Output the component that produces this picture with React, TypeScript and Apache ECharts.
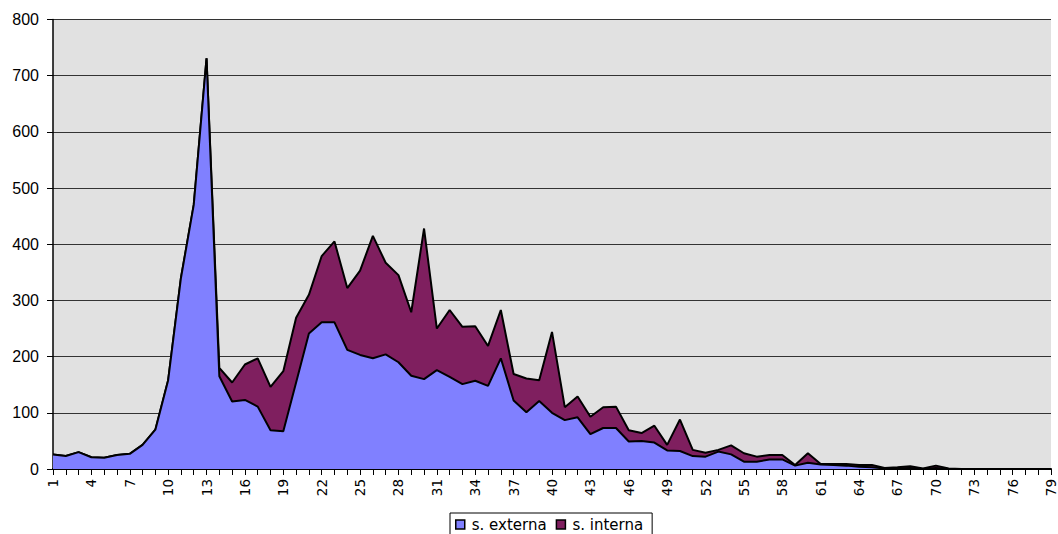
import React, { useEffect, useRef } from "react";
import * as echarts from "echarts";

const categories: string[] = Array.from({ length: 79 }, (_, i) => String(i + 1));

const externa: number[] = [
  26, 23, 30, 21, 20, 25, 27, 43, 70, 158,
  340, 470, 731, 165, 120, 123, 111, 69, 67, 154,
  241, 261, 261, 212, 203, 197, 204, 190, 166, 160,
  176, 164, 151, 157, 148, 197, 122, 101, 121, 100,
  87, 92, 62, 73, 73, 49, 50, 47, 33, 32,
  23, 22, 31, 26, 13, 13, 17, 17, 6, 11,
  8, 7, 6, 4, 3, 1, 1, 2, 0, 2,
  0, 0, 0, 0, 0, 0, 0, 0, 0,
];

const interna: number[] = [
  0, 0, 0, 0, 0, 0, 0, 0, 0, 0,
  0, 0, 0, 15, 34, 63, 86, 77, 107, 115,
  69, 118, 144, 110, 150, 218, 163, 155, 113, 268,
  74, 119, 102, 97, 71, 86, 47, 60, 37, 144,
  23, 37, 31, 37, 38, 20, 14, 30, 10, 56,
  11, 7, 3, 16, 15, 9, 8, 8, 1, 17,
  1, 2, 3, 3, 4, 1, 2, 3, 1, 4,
  1, 0, 0, 0, 0, 0, 0, 0, 0,
];

const ARIAL = "'Liberation Sans', Arial, sans-serif";
const WIDE = "'DejaVu Sans', sans-serif";

export default function App() {
  const ref = useRef<HTMLDivElement>(null);
  useEffect(() => {
    if (!ref.current) return;
    const chart = echarts.init(ref.current, null, { renderer: "svg" });
    chart.setOption({
      animation: false,
      textStyle: { fontFamily: ARIAL },
      grid: {
        left: 53,
        right: 4,
        top: 19.5,
        bottom: 65,
        show: true,
        backgroundColor: "#E1E1E1",
        borderWidth: 0,
      },
      legend: {
        top: 513,
        left: 450,
        itemWidth: 9,
        itemHeight: 9,
        itemGap: 9,
        padding: [4, 9, 6, 5],
        borderColor: "#000",
        borderWidth: 1,
        borderRadius: 0,
        icon: "rect",
        textStyle: { fontFamily: WIDE, fontSize: 15, color: "#000", padding: [0, 0, 0, 2] },
        data: [
          { name: "s. externa", itemStyle: { color: "#8080FF", borderColor: "#000", borderWidth: 1.5 } },
          { name: "s. interna", itemStyle: { color: "#7F1F5F", borderColor: "#000", borderWidth: 1.5 } },
        ],
      },
      xAxis: {
        type: "category",
        data: categories,
        boundaryGap: false,
        axisLine: { show: true, lineStyle: { color: "#000", width: 2 } },
        axisTick: { show: true, interval: 0, length: 6, lineStyle: { color: "#000", width: 1 } },
        axisLabel: {
          interval: 2,
          rotate: 90,
          fontSize: 13.5,
          color: "#000",
          fontFamily: WIDE,
          margin: 10,
        },
        splitLine: { show: false },
      },
      yAxis: {
        type: "value",
        min: 0,
        max: 800,
        interval: 100,
        axisLine: { show: true, lineStyle: { color: "#000", width: 1.5 } },
        axisTick: { show: true, length: 6, lineStyle: { color: "#000" } },
        axisLabel: { fontSize: 16, color: "#000", fontFamily: ARIAL, margin: 14 },
        splitLine: { show: true, lineStyle: { color: "#333", width: 1 } },
      },
      series: [
        {
          name: "s. externa",
          type: "line",
          stack: "total",
          data: externa,
          symbol: "none",
          lineStyle: { color: "#000", width: 2 },
          itemStyle: { color: "#8080FF" },
          areaStyle: { color: "#8080FF", opacity: 1 },
          z: 3,
        },
        {
          name: "s. interna",
          type: "line",
          stack: "total",
          data: interna,
          symbol: "none",
          lineStyle: { color: "#000", width: 2 },
          itemStyle: { color: "#7F1F5F" },
          areaStyle: { color: "#7F1F5F", opacity: 1 },
          z: 2,
        },
      ],
    });
    return () => chart.dispose();
  }, []);
  return <div ref={ref} style={{ width: 1058, height: 534, position: "absolute", left: 0, top: 0 }} />;
}
